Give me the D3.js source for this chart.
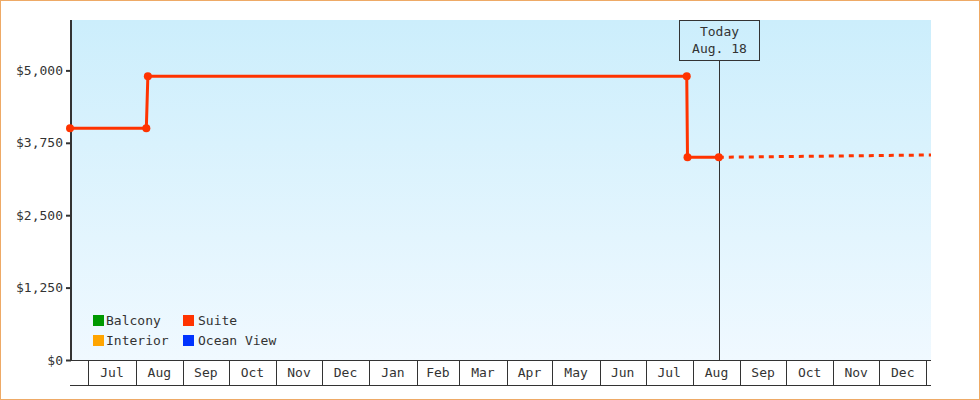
<!DOCTYPE html>
<html>
<head>
<meta charset="utf-8">
<script src="https://cdn.jsdelivr.net/npm/d3@7/dist/d3.min.js"></script>
<style>
  html, body { margin: 0; padding: 0; background: #fff; }
  svg { display: block; }
  text { font-family: "DejaVu Sans Mono", monospace; font-size: 13px; fill: #333; }
</style>
</head>
<body>
<svg id="chart" width="980" height="400"></svg>
<script>
// ---------- DATA ----------
const legendNames = ["Balcony", "Suite", "Interior", "Ocean View"];
const legendColors = ["#009900", "#ff3300", "#ffa500", "#0033ff"];

const suiteDates = ["2013-06-19T00:00", "2013-08-08T00:00", "2013-08-09T00:00", "2014-07-28T00:00", "2014-07-28T12:00", "2014-08-18T00:00"];
const suitePrices = [4000, 4000, 4900, 4900, 3500, 3500];

const forecastDates = ["2014-08-18T00:00", "2015-01-04T00:00"];
const forecastPrices = [3500, 3540];

const todayDate = "2014-08-18T00:00";
const todayLabel = ["Today", "Aug. 18"];

const yTicks = [0, 1250, 2500, 3750, 5000];
const monthStarts = ["2013-07-01","2013-08-01","2013-09-01","2013-10-01","2013-11-01","2013-12-01",
  "2014-01-01","2014-02-01","2014-03-01","2014-04-01","2014-05-01","2014-06-01",
  "2014-07-01","2014-08-01","2014-09-01","2014-10-01","2014-11-01","2014-12-01","2015-01-01"];
const monthLabels = ["Jul","Aug","Sep","Oct","Nov","Dec","Jan","Feb","Mar","Apr","May","Jun",
  "Jul","Aug","Sep","Oct","Nov","Dec"];

const xDomain = ["2013-06-19T00:00", "2015-01-04T00:00"];
const yMax = 5870;

// ---------- LAYOUT ----------
const parse = d3.isoParse;
const W = 980, H = 400;
const plotL = 71, plotR = 931, plotT = 20, plotB = 360, bandB = 385;

const svg = d3.select("#chart");

const x = d3.scaleTime().domain(xDomain.map(parse)).range([70, 931]);
const y = d3.scaleLinear().domain([0, yMax]).range([plotB, plotT]);

// background gradient
const defs = svg.append("defs");
const grad = defs.append("linearGradient").attr("id", "bg").attr("x1", 0).attr("y1", 0).attr("x2", 0).attr("y2", 1);
grad.append("stop").attr("offset", "0%").attr("stop-color", "#cceefc");
grad.append("stop").attr("offset", "100%").attr("stop-color", "#f0f9ff");
defs.append("clipPath").attr("id", "clip").append("rect")
  .attr("x", 60).attr("y", plotT - 10).attr("width", plotR - 60).attr("height", plotB - plotT + 20);

// outer border
svg.append("rect").attr("x", 0.5).attr("y", 0.5).attr("width", W - 1).attr("height", H - 1)
  .attr("fill", "#fff").attr("stroke", "#eeaa66").attr("stroke-width", 1);

// plot background
svg.append("rect").attr("x", plotL).attr("y", plotT).attr("width", plotR - plotL).attr("height", plotB - plotT)
  .attr("fill", "url(#bg)");

// month band (x axis)
const bandG = svg.append("g");
bandG.append("line").attr("x1", 70).attr("x2", plotR).attr("y1", plotB + 0.5).attr("y2", plotB + 0.5)
  .attr("stroke", "#333").attr("stroke-width", 1);
bandG.append("line").attr("x1", 70).attr("x2", plotR).attr("y1", bandB + 0.5).attr("y2", bandB + 0.5)
  .attr("stroke", "#333").attr("stroke-width", 1);
const ms = monthStarts.map(parse);
bandG.selectAll("line.sep").data(ms).enter().append("line").attr("class", "sep")
  .attr("x1", d => Math.round(x(d)) + 0.5).attr("x2", d => Math.round(x(d)) + 0.5)
  .attr("y1", plotB).attr("y2", bandB)
  .attr("stroke", "#333").attr("stroke-width", 1);
bandG.selectAll("text.mon").data(monthLabels).enter().append("text").attr("class", "mon")
  .attr("x", (d, i) => (x(ms[i]) + x(ms[i + 1])) / 2)
  .attr("y", (plotB + bandB) / 2 + 1)
  .attr("text-anchor", "middle").attr("dominant-baseline", "middle")
  .text(d => d);

// y axis
const yAxis = d3.axisLeft(y).tickValues(yTicks).tickSize(5).tickPadding(3)
  .tickFormat(d => "$" + d3.format(",")(d));
const yg = svg.append("g").attr("transform", "translate(71,0)").call(yAxis);
yg.select(".domain").remove();
yg.selectAll(".tick line").attr("stroke", "#333").attr("stroke-width", 2);
yg.selectAll(".tick text").attr("font-family", "DejaVu Sans Mono, monospace").attr("font-size", 13).attr("fill", "#333");
svg.append("line").attr("x1", 71).attr("x2", 71).attr("y1", plotT).attr("y2", plotB + 1)
  .attr("stroke", "#333").attr("stroke-width", 2);

// today marker
const tx = Math.round(x(parse(todayDate))) + 0.5;
svg.append("line").attr("x1", tx).attr("x2", tx).attr("y1", 60.5).attr("y2", plotB)
  .attr("stroke", "#333").attr("stroke-width", 1);
svg.append("rect").attr("x", tx - 40).attr("y", plotT + 0.5).attr("width", 80).attr("height", 40)
  .attr("fill", "none").attr("stroke", "#333").attr("stroke-width", 1);
svg.selectAll("text.today").data(todayLabel).enter().append("text").attr("class", "today")
  .attr("x", tx).attr("y", (d, i) => 32 + i * 17)
  .attr("text-anchor", "middle").attr("dominant-baseline", "middle").text(d => d);

// series
const suiteColor = legendColors[legendNames.indexOf("Suite")];
const suite = suiteDates.map((d, i) => ({ date: parse(d), value: suitePrices[i] }));
const forecast = forecastDates.map((d, i) => ({ date: parse(d), value: forecastPrices[i] }));
const line = d3.line().x(d => x(d.date)).y(d => y(d.value));

const sg = svg.append("g").attr("clip-path", "url(#clip)");
sg.append("path").datum(forecast).attr("d", line)
  .attr("fill", "none").attr("stroke", suiteColor).attr("stroke-width", 3).attr("stroke-dasharray", "5,5");
sg.append("path").datum(suite).attr("d", line)
  .attr("fill", "none").attr("stroke", suiteColor).attr("stroke-width", 3);
sg.selectAll("circle").data(suite).enter().append("circle")
  .attr("cx", d => x(d.date)).attr("cy", d => y(d.value)).attr("r", 4)
  .attr("fill", suiteColor);

// legend
const lg = svg.append("g").attr("transform", "translate(93,315)");
const items = lg.selectAll("g").data(legendNames).enter().append("g")
  .attr("transform", (d, i) => `translate(${(i % 2) * 90},${Math.floor(i / 2) * 20})`);
items.append("rect").attr("width", 11).attr("height", 11).attr("fill", (d, i) => legendColors[i]);
items.append("text").attr("x", (d, i) => (i % 2) ? 15 : 13).attr("y", 6).attr("dominant-baseline", "middle").text(d => d);
</script>
</body>
</html>
